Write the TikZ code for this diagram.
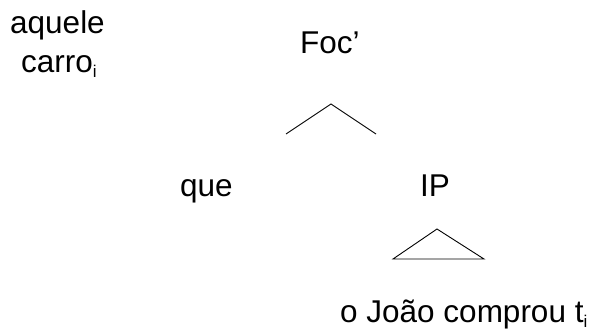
\documentclass[tikz,border=0pt]{standalone}
\usepackage{fontspec}
\setmainfont{Liberation Sans}
\newcommand{\subi}{\raisebox{-0.17em}{\fontsize{17}{17}\selectfont i}}
\begin{document}
\begin{tikzpicture}[x=1pt,y=-1pt,
  lbl/.style={inner sep=0pt,anchor=base west,font=\fontsize{31.5}{34}\selectfont},
  branch/.style={line width=0.9pt,line join=miter}]
\useasboundingbox (0,0) rectangle (598,332);
\node[lbl] (aquele) at (10,33) {aquele};
\node[lbl] (carro) at (21,72) {carro\subi};
\node[lbl] (foc) at (300,53) {Foc’};
\coordinate (vtop) at (331,104);
\coordinate (vl) at (286,134);
\coordinate (vr) at (376,134);
\draw[branch] (vl) -- (vtop) -- (vr);
\node[lbl] (que) at (180,196) {que};
\node[lbl] (ip) at (420,196) {IP};
\coordinate (ttop) at (437,229);
\coordinate (tl) at (393,259);
\coordinate (tr) at (484,259);
\draw[branch] (ttop) -- (tl) -- (tr) -- cycle;
\node[lbl] (oj) at (340,322) {o João comprou t\subi};
\end{tikzpicture}
\end{document}
